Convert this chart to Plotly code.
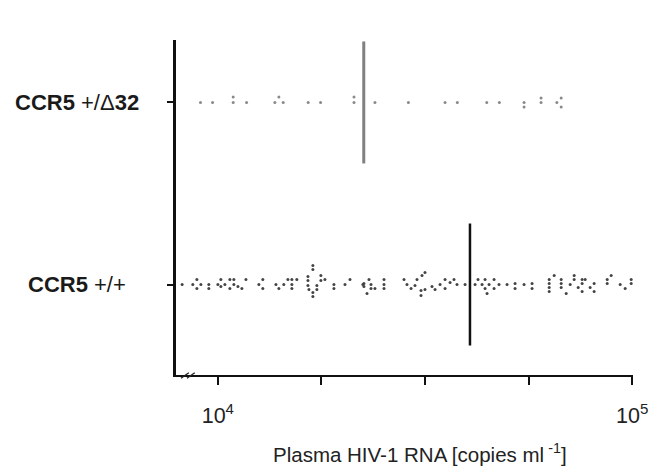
import plotly.graph_objects as go

# ---------------- data ----------------
groups = ["CCR5 +/+", "CCR5 +/Δ32"]
group_labels = ["<b>CCR5</b> +/+", "<b>CCR5</b> +/Δ<b>32</b>"]
x_title = "Plasma HIV-1 RNA [copies ml<sup> -1</sup>]"

# CCR5 +/Δ32 : plasma HIV-1 RNA (copies/ml) and beeswarm offset
delta32_rna = [9080, 9710, 10890, 10890, 11730, 13730, 14040, 14380, 16520, 17700,
               21310, 21310, 23940, 28830, 35350, 37840, 44570, 47800, 54840, 54840,
               60280, 60280, 65800, 67400, 67400]
delta32_offset = [0, 0, 0.03, 0, 0, 0, 0.03, 0, 0, 0,
                  0.03, 0, 0, 0, 0, 0, 0, 0, 0, -0.025,
                  0.025, 0, 0, 0.025, -0.025]

# CCR5 +/+ : plasma HIV-1 RNA (copies/ml) and beeswarm offset
wt_rna = [8200, 8700, 8900, 8900, 9100, 9510, 9510, 10000, 10170, 10170,
          10400, 10690, 10690, 10930, 10930, 11180, 11430, 11690, 12560, 12840,
          12840, 13810, 14040, 14430, 14760, 15090, 15090, 15090, 15510, 16500,
          16500, 16500, 16590, 16960, 16960, 16960, 16960, 17340, 17340, 17730,
          17730, 18130, 19060, 19060, 20270, 20840, 22390, 22520, 22520, 22910,
          23160, 23420, 23420, 23940, 25180, 25180, 25180, 28140, 28610, 29260,
          29910, 30250, 30930, 30930, 31100, 31620, 31620, 32880, 33440, 34380,
          35350, 35350, 36350, 37150, 37780, 39510, 41770, 42460, 43420, 44150,
          44150, 44640, 45140, 46420, 46420, 47710, 49890, 52160, 52160, 54840,
          57340, 57340, 63050, 63050, 63050, 63050, 64820, 67400, 67400, 67400,
          69300, 70850, 72440, 72440, 74070, 75730, 75730, 75730, 77010, 79170,
          80950, 80950, 87040, 87040, 88980, 93550, 96180, 99450, 99450]
wt_offset = [0, 0, 0.027, -0.022, 0, 0, -0.022, 0, 0.027, -0.011,
             0, 0.027, -0.022, 0.027, 0, -0.011, -0.022, 0.027, 0, 0.027,
             -0.022, 0, -0.022, 0, 0.027, 0.027, 0, -0.022, 0.027, 0.044,
             0.022, -0.005, -0.027, 0.104, 0.082, -0.044, -0.066, -0.005, -0.027, 0.049,
             0.022, 0.027, 0, -0.022, 0, 0.027, 0, 0.005, -0.011, -0.049,
             0.027, 0, -0.022, -0.022, 0.027, 0, -0.022, 0.027, 0, -0.022,
             -0.005, 0.027, -0.033, -0.060, 0.049, 0.066, -0.027, -0.011, -0.027, 0,
             0.027, -0.022, 0.011, 0.027, 0, 0, 0, 0.027, 0, 0.027,
             -0.022, -0.049, 0, 0.027, -0.022, 0, 0, 0.005, -0.022, 0,
             0.005, -0.022, 0.027, 0.005, -0.016, -0.038, 0.049, 0.027, 0.005, -0.016,
             -0.049, 0, 0.049, 0.027, -0.016, 0.027, 0.005, -0.038, 0.027, -0.016,
             0.005, -0.038, 0.027, 0.005, 0.049, 0, -0.022, 0.027, 0.005]

median_rna = [40600, 22500]          # +/+ , +/Δ32
median_color = ["#111111", "#808080"]
dot_color = ["#444444", "#8a8a8a"]

x_tickvals = [1e4, 10**4.25, 10**4.5, 10**4.75, 1e5]
x_ticktext = ["10<sup>4</sup>", "", "", "", "10<sup>5</sup>"]

# ---------------- figure ----------------
fig = go.Figure()

series = [(wt_rna, wt_offset), (delta32_rna, delta32_offset)]
for gi, (vals, offs) in enumerate(series):
    fig.add_trace(go.Scatter(
        x=vals, y=[gi + o for o in offs], mode="markers",
        marker=dict(size=3, color=dot_color[gi], line=dict(width=0)),
        showlegend=False, hoverinfo="x",
    ))

for gi, m in enumerate(median_rna):
    fig.add_shape(type="line", xref="x", yref="y", x0=m, x1=m,
                  y0=gi - 0.335, y1=gi + 0.335,
                  line=dict(color=median_color[gi], width=2.5 if gi == 0 else 3))

for gi, lab in enumerate(group_labels):
    fig.add_annotation(text=lab, xref="paper", yref="y", x=-0.217, y=gi,
                       xanchor="center", yanchor="middle", showarrow=False,
                       font=dict(family="Liberation Sans, Arial", size=22, color="#1a1a1a"))

# x-axis title (placed slightly right of the plot centre, as in the original)
fig.add_annotation(text=x_title, xref="paper", yref="paper", x=0.534, y=-0.233,
                   xanchor="center", yanchor="middle", showarrow=False,
                   font=dict(family="Liberation Sans, Arial", size=20.5, color="#222222"))

# axis break marks
for (x0, y0, x1, y1) in [(0.011, -0.010, 0.028, 0.007), (0.024, -0.010, 0.041, 0.007)]:
    fig.add_shape(type="line", xref="paper", yref="paper", x0=x0, y0=y0, x1=x1, y1=y1,
                  line=dict(color="#222222", width=1.3))

fig.update_layout(
    width=658, height=459,
    margin=dict(l=168, r=33, t=32, b=92),
    paper_bgcolor="white", plot_bgcolor="white",
    font=dict(family="Liberation Sans, Arial", color="#222222"),
    xaxis=dict(
        type="log", range=[3.899, 5.002],
        tickvals=x_tickvals, ticktext=x_ticktext,
        ticks="outside", ticklen=8, tickwidth=2, tickcolor="#111111",
        ticklabelstandoff=12,
        showline=True, linewidth=2, linecolor="#111111",
        showgrid=False, zeroline=False,
        tickfont=dict(size=21.5, color="#222222"),
    ),
    yaxis=dict(
        range=[-0.497, 1.343],
        tickvals=[0, 1], ticktext=["", ""],
        ticks="outside", ticklen=6, tickwidth=2, tickcolor="#111111",
        showline=True, linewidth=2.5, linecolor="#111111",
        showgrid=False, zeroline=False,
    ),
)

fig.write_html("out.html")
